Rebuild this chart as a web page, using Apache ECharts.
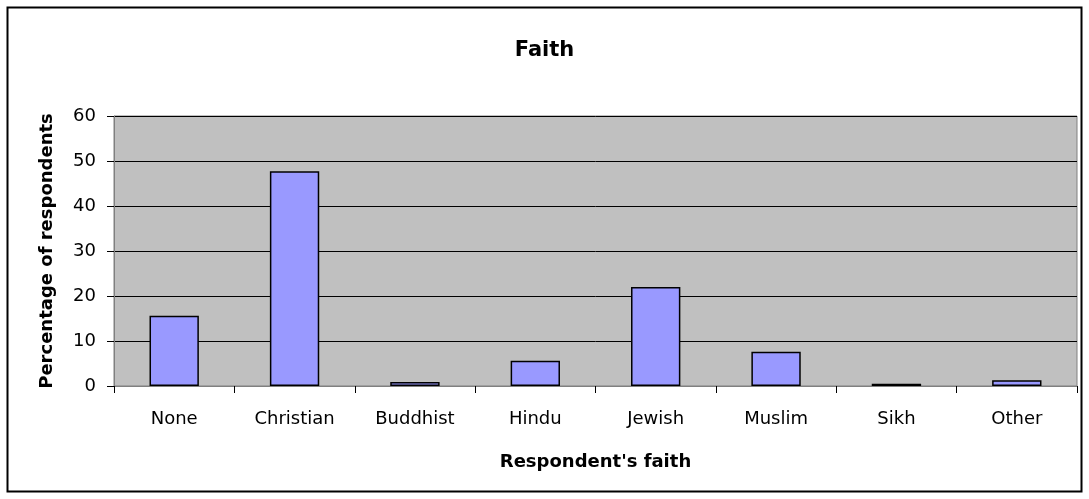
<!DOCTYPE html>
<html><head><meta charset="utf-8">
<script src="https://cdn.jsdelivr.net/npm/echarts@6/dist/echarts.min.js"></script>
<style>html,body{margin:0;padding:0;background:#fff}#c{width:1089px;height:499px}</style>
</head><body><div id="c"></div>
<script>
const categories = ['None','Christian','Buddhist','Hindu','Jewish','Muslim','Sikh','Other'];
const values = [15.6, 47.7, 0.9, 5.6, 22.0, 7.6, 0.5, 1.3];
const yTicks = [0, 10, 20, 30, 40, 50, 60];
const chart = echarts.init(document.getElementById('c'));
const F = '"DejaVu Sans", "Liberation Sans", Arial, sans-serif';
chart.setOption({
  animation: false,
  backgroundColor: '#fff',
  title: { text: 'Faith', left: 'center', top: 35, textStyle: { fontFamily: F, fontSize: 21, fontWeight: 'bold', color: '#000' } },
  graphic: [{ type: 'rect', shape: { x: 7.5, y: 7.5, width: 1074, height: 484 }, style: { fill: 'none', stroke: '#000', lineWidth: 2 }, silent: true }],
  grid: { left: 114, top: 116, right: 12, bottom: 113, show: true, backgroundColor: '#C0C0C0', borderColor: '#808080', borderWidth: 1 },
  xAxis: {
    type: 'category', data: categories,
    name: "Respondent's faith", nameLocation: 'middle', nameGap: 67,
    nameTextStyle: { fontFamily: F, fontSize: 18, fontWeight: 'bold', color: '#000' },
    axisLine: { lineStyle: { color: '#808080', width: 1 } },
    axisTick: { show: true, length: 7, lineStyle: { color: '#000' } },
    axisLabel: { fontFamily: F, fontSize: 18, color: '#000', margin: 24 }
  },
  yAxis: {
    type: 'value', min: yTicks[0], max: yTicks[yTicks.length - 1], interval: 10,
    name: 'Percentage of respondents', nameLocation: 'middle', nameGap: 58,
    nameTextStyle: { fontFamily: F, fontSize: 18, fontWeight: 'bold', color: '#000' },
    axisLine: { show: true, lineStyle: { color: '#808080', width: 1 } },
    axisTick: { show: true, length: 7, lineStyle: { color: '#000' } },
    axisLabel: { fontFamily: F, fontSize: 18, color: '#000', margin: 18 },
    splitLine: { show: true, lineStyle: { color: '#000', width: 1 } }
  },
  series: [{
    type: 'bar', data: values, barWidth: '41%',
    itemStyle: { color: '#9999FF', borderColor: '#000', borderWidth: 1.5 }
  }]
});
</script></body></html>
